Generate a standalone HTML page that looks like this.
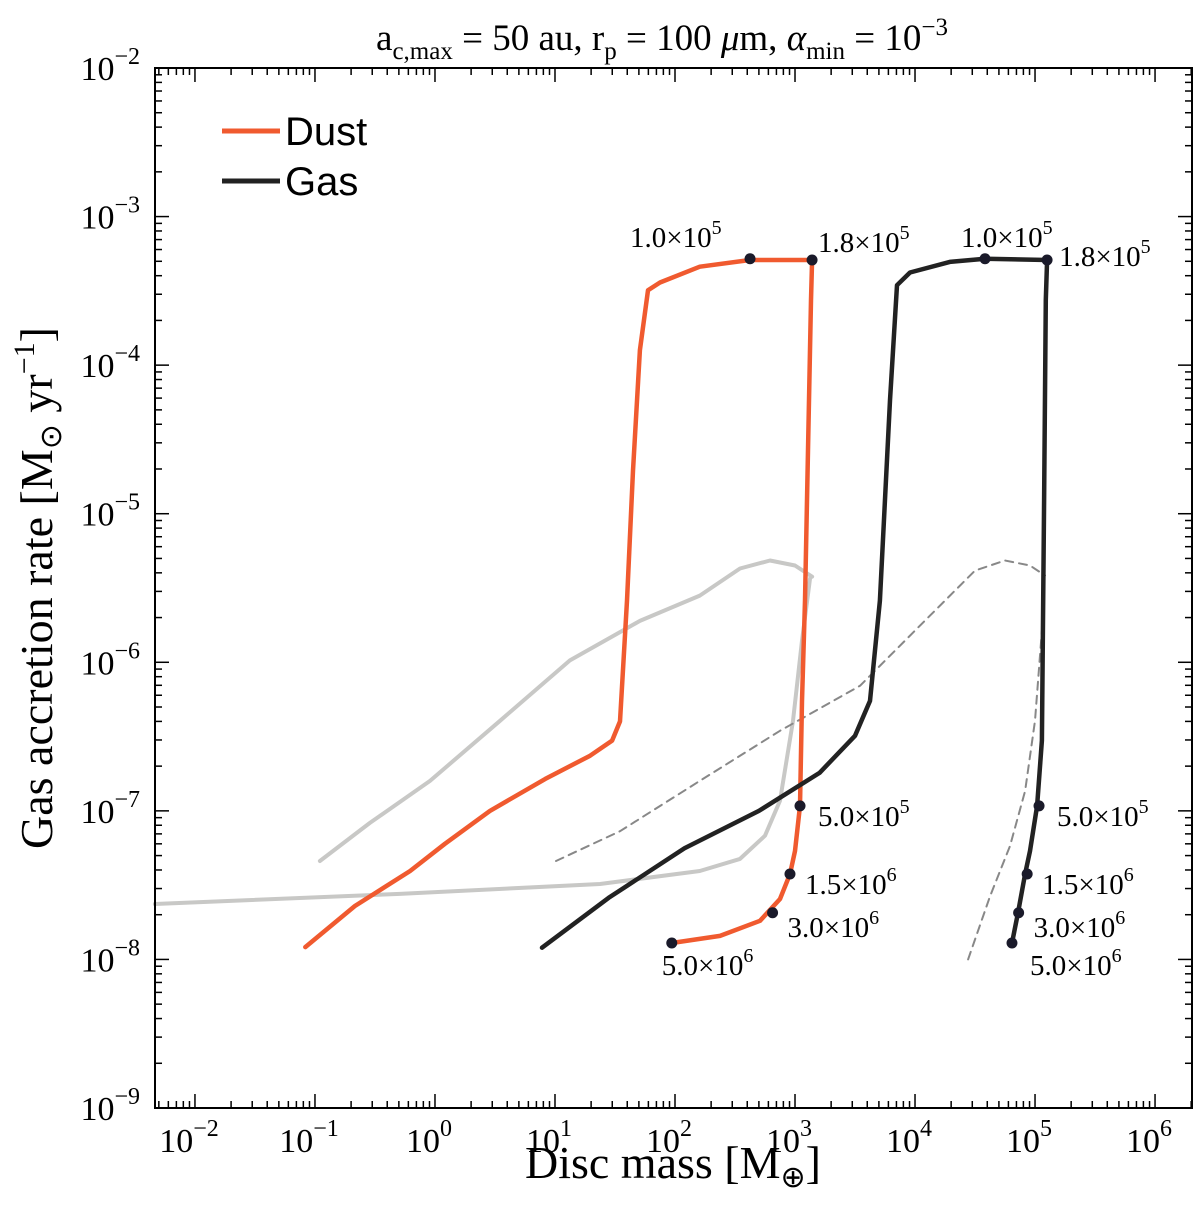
<!DOCTYPE html>
<html><head><meta charset="utf-8"><style>
html,body{margin:0;padding:0;background:#fff;}
svg{display:block;font-family:"Liberation Serif",serif;}
</style></head><body>
<svg id="chart" width="1200" height="1222" xmlns="http://www.w3.org/2000/svg">
<text x="662" y="50" font-size="37" text-anchor="middle">a<tspan font-size="25" dy="9">c,max</tspan><tspan dy="-9"> = 50 au, r</tspan><tspan font-size="25" dy="9">p</tspan><tspan dy="-9"> = 100 </tspan><tspan font-style="italic">μ</tspan><tspan>m, </tspan><tspan font-style="italic">α</tspan><tspan font-size="25" dy="9">min</tspan><tspan dy="-9"> = 10</tspan><tspan font-size="25" dy="-15">−3</tspan></text>
<text x="673" y="1178" font-size="46" text-anchor="middle">Disc mass [M<tspan font-size="30" dy="9">⊕</tspan><tspan dy="-9">]</tspan></text>
<text transform="translate(52,588) rotate(-90)" font-size="46" text-anchor="middle">Gas accretion rate [M<tspan font-size="30" dy="9">⊙</tspan><tspan dy="-9"> yr</tspan><tspan font-size="30" dy="-18">−1</tspan><tspan dy="18">]</tspan></text>
<g id="ticks"></g>
<g id="series"></g>
<rect x="155" y="68" width="1037" height="1040" fill="none" stroke="#000" stroke-width="2"/>
<g>
<line x1="222" y1="131" x2="280" y2="131" stroke="#f05a2f" stroke-width="5"/>
<text x="285" y="145" font-size="40" font-family="Liberation Sans, sans-serif">Dust</text>
<line x1="222" y1="181" x2="280" y2="181" stroke="#222" stroke-width="5"/>
<text x="285" y="195" font-size="40" font-family="Liberation Sans, sans-serif">Gas</text>
</g>
</svg>
<script>
const xTickExps=[-2,-1,0,1,2,3,4,5,6];
const yTickExps=[-9,-8,-7,-6,-5,-4,-3,-2];
const dustMass=[0.083,0.215,0.62,1.21,2.87,8.3,19.6,29.9,34.8,39.8,44.7,51,59.6,75,161,422,1387,1360,1282,1211,1143,1101,1000,908,750,511,237,94];
const dustRate=[1.21e-8,2.29e-8,3.94e-8,6.0e-8,1.0e-7,1.64e-7,2.35e-7,2.97e-7,4.0e-7,2.6e-6,1.95e-5,1.26e-4,3.19e-4,3.6e-4,4.6e-4,5.1e-4,5.1e-4,2.74e-4,2.67e-5,2.6e-6,5.5e-7,1.08e-7,5.37e-8,3.76e-8,2.55e-8,1.82e-8,1.44e-8,1.29e-8];
const gasMass=[7.8,28,120,500,1600,3162,4217,5100,6190,7080,9080,19500,38300,126000,123000,119000,114000,104000,90800,82600,72100,64300];
const gasRate=[1.2e-8,2.6e-8,5.6e-8,1.0e-7,1.8e-7,3.2e-7,5.5e-7,2.6e-6,5.8e-5,3.45e-4,4.2e-4,4.95e-4,5.2e-4,5.1e-4,2.74e-4,1.23e-5,2.97e-7,1.08e-7,5.37e-8,3.76e-8,2.06e-8,1.29e-8];
const grayAMass=[0.11,0.287,0.908,3.48,13.3,51,161,348,619,1000,1387];
const grayARate=[4.6e-8,8.3e-8,1.59e-7,4.04e-7,1.03e-6,1.9e-6,2.81e-6,4.28e-6,4.84e-6,4.48e-6,3.77e-6];
const grayBMass=[0.00464,0.51,23.7,161,348,562,750,962,1143,1334];
const grayBRate=[2.36e-8,2.76e-8,3.22e-8,3.94e-8,4.75e-8,6.8e-8,1.17e-7,4.04e-7,1.4e-6,3.65e-6];
const dashAMass=[10.2,34.8,161,750,3480,13300,31600,56200,90800,121000];
const dashARate=[4.6e-8,7.3e-8,1.59e-7,3.46e-7,6.95e-7,2.06e-6,4.14e-6,4.84e-6,4.48e-6,3.84e-6];
const dashBMass=[27700,42200,61900,82600,100000,114000];
const dashBRate=[1.0e-8,2.67e-8,5.8e-8,1.36e-7,4.04e-7,1.63e-6];
const dustMarkMass=[422,1387,1101,908,650,94];
const dustMarkRate=[5.2e-4,5.1e-4,1.08e-7,3.76e-8,2.06e-8,1.29e-8];
const gasMarkMass=[38300,126000,108000,86000,73000,64300];
const gasMarkRate=[5.2e-4,5.1e-4,1.08e-7,3.76e-8,2.06e-8,1.29e-8];
const markLabels=["1.0","1.8","5.0","1.5","3.0","5.0"];
const markExps=["5","5","5","6","6","6"];

const NS="http://www.w3.org/2000/svg";
const X0=155,X1=1192,Y0=68,Y1=1108;
const lxMin=-2.333,lxMax=6.308,lyMin=-9,lyMax=-2;
function sx(v){return X0+(Math.log10(v)-lxMin)/(lxMax-lxMin)*(X1-X0);}
function sy(v){return Y1-(Math.log10(v)-lyMin)/(lyMax-lyMin)*(Y1-Y0);}
function mk(t,a,p){const e=document.createElementNS(NS,t);for(const k in a)e.setAttribute(k,a[k]);p.appendChild(e);return e;}
const tg=document.getElementById('ticks');
for(let d=-3;d<=6;d++)for(let m=1;m<10;m++){const v=m*Math.pow(10,d);const x=sx(v);if(x<X0||x>X1)continue;const L=m===1?14:7;
 const t1=mk('line',{x1:x,x2:x,y1:Y1,y2:Y1-L,stroke:'#000','stroke-width':1.5},tg);
 const t2=mk('line',{x1:x,x2:x,y1:Y0,y2:Y0+L,stroke:'#000','stroke-width':1.5},tg);}
for(let d=-9;d<=-3;d++)for(let m=1;m<10;m++){const v=m*Math.pow(10,d);const y=sy(v);if(y<Y0-1)continue;const L=m===1?14:7;
 const t1=mk('line',{x1:X0,x2:X0+L,y1:y,y2:y,stroke:'#000','stroke-width':1.5},tg);
 const t2=mk('line',{x1:X1,x2:X1-L,y1:y,y2:y,stroke:'#000','stroke-width':1.5},tg);}
xTickExps.forEach(e=>{const t=mk('text',{x:sx(Math.pow(10,e))-6,y:1152,'font-size':34,'text-anchor':'middle'},tg);
 
 t.innerHTML='10<tspan font-size="24" dy="-16">'+(e<0?'−'+(-e):e)+'</tspan>';});
yTickExps.forEach(e=>{const t=mk('text',{x:140,y:sy(Math.pow(10,e))+12,'font-size':34,'text-anchor':'end'},tg);
 
 t.innerHTML='10<tspan font-size="24" dy="-16">−'+(-e)+'</tspan>';});
const sg=document.getElementById('series');
function line(ms,rs,col,w,dash,name){const p=ms.map((m,i)=>sx(m).toFixed(1)+','+sy(rs[i]).toFixed(1)).join(' ');
 const el=mk('polyline',{points:p,fill:'none',stroke:col,'stroke-width':w,'stroke-linejoin':'round','stroke-linecap':'round'},sg);
 if(dash)el.setAttribute('stroke-dasharray',dash);
 
 }
line(grayAMass,grayARate,'#c8c8c6',4,null,'gray-reference-upper');
line(grayBMass,grayBRate,'#c8c8c6',4,null,'gray-reference-lower');
line(dashAMass,dashARate,'#888',2,'8,6','dashed-reference-upper');
line(dashBMass,dashBRate,'#888',2,'8,6','dashed-reference-lower');
line(dustMass,dustRate,'#f05a2f',4.5,null,'dust-line');
line(gasMass,gasRate,'#222',4.5,null,'gas-line');
const labOff=[[-120,-12],[6,-8],[18,20],[15,20],[15,24],[-10,32]];
const gasOff=[[-24,-12],[12,6],[18,20],[15,20],[15,24],[18,32]];
function marks(ms,rs,off,name){ms.forEach((m,i)=>{const x=sx(m),y=sy(rs[i]);
 const c=mk('circle',{cx:x,cy:y,r:5.5,fill:'#1a1a2a'},sg);
 
 
 const t=mk('text',{x:x+off[i][0],y:y+off[i][1],'font-size':29},sg);
 
 
 t.innerHTML=markLabels[i]+'×10<tspan font-size="20" dy="-13">'+markExps[i]+'</tspan>';});}
marks(dustMarkMass,dustMarkRate,labOff,'dust');
marks(gasMarkMass,gasMarkRate,gasOff,'gas');
</script>
</body></html>
